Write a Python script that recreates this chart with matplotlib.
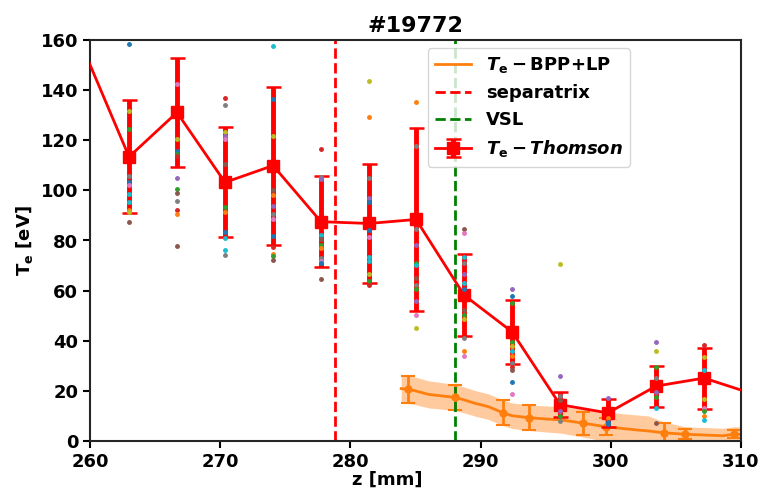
import numpy as np
import matplotlib
matplotlib.use("Agg")
import matplotlib.pyplot as plt

plt.rcParams['font.family'] = ['DejaVu Sans']
plt.rcParams['font.weight'] = 'bold'
plt.rcParams['axes.labelweight'] = 'bold'
plt.rcParams['axes.titleweight'] = 'bold'
plt.rcParams['mathtext.fontset'] = 'custom'
plt.rcParams['mathtext.rm'] = 'DejaVu Sans:bold'
plt.rcParams['mathtext.it'] = 'DejaVu Sans:bold:italic'
plt.rcParams['mathtext.bf'] = 'DejaVu Sans:bold'

# ---------------- data ----------------
title = "#19772"
separatrix_z = 278.8
vsl_z = 288.0

thomson_z = [259.31, 263.0, 266.68, 270.37, 274.06, 277.74, 281.43, 285.04,
             288.73, 292.41, 296.10, 299.78, 303.47, 307.16, 310.85]
thomson_te = [158.6, 113.4, 131.1, 103.2, 109.9, 87.5, 86.8, 88.4,
              58.2, 43.6, 14.5, 11.2, 21.9, 25.1, 18.9]
thomson_err = [22.0, 22.5, 21.6, 21.9, 31.5, 18.2, 23.7, 36.5,
               16.3, 12.8, 5.0, 5.5, 8.2, 12.2, 6.0]

# individual Thomson measurements (per z position, colours = time slices)
dots_te = [
    [158.4, 131.7, 124.3, 105.9, 103.5, 102.2, 98.7, 95.5, 92.3, 91.2, 87.4],
    [142.6, 120.5, 115.6, 114.6, 113.8, 104.8, 100.4, 99.0, 95.6, 92.2, 90.4, 77.8],
    [136.9, 134.0, 123.2, 121.6, 120.4, 110.5, 93.5, 91.5, 83.3, 80.9, 76.2, 74.2],
    [157.7, 136.3, 121.6, 100.2, 98.3, 93.8, 90.5, 88.7, 81.9, 77.3, 74.6, 74.0, 72.1],
    [116.6, 105.5, 104.4, 82.2, 80.6, 78.2, 76.9, 72.9, 71.9, 70.9, 64.7],
    [143.8, 129.3, 104.9, 97.0, 95.2, 84.1, 81.3, 73.5, 71.7, 66.6, 63.7, 62.1],
    [135.4, 117.8, 84.5, 78.1, 71.2, 70.2, 64.9, 62.3, 60.7, 55.7, 50.3, 45.1],
    [84.6, 82.9, 73.3, 70.9, 66.6, 62.9, 60.8, 52.3, 50.3, 48.6, 41.0, 36.0, 33.9],
    [60.8, 57.7, 54.9, 39.5, 38.0, 36.0, 33.9, 31.0, 29.7, 28.3, 23.7, 18.9],
    [70.6, 25.9, 18.0, 16.4, 12.1, 10.0, 7.8],
    [17.3, 9.0, 7.7, 6.9],
    [39.4, 35.9, 29.4, 25.3, 19.4, 17.4, 13.2, 7.2],
    [38.4, 33.4, 28.2, 16.9, 13.3, 11.8, 10.1, 8.4],
]
dots_c = [
    ['C0', 'C8', 'C2', 'C7', 'C0', 'C6', 'C9', 'C9', 'C1', 'C8', 'C5'],
    ['C6', 'C8', 'C0', 'C2', 'C3', 'C4', 'C2', 'C5', 'C7', 'C3', 'C1', 'C5'],
    ['C3', 'C7', 'C8', 'C4', 'C6', 'C5', 'C2', 'C1', 'C0', 'C9', 'C9', 'C7'],
    ['C9', 'C0', 'C8', 'C5', 'C1', 'C4', 'C7', 'C6', 'C0', 'C3', 'C1', 'C2', 'C5'],
    ['C3', 'C7', 'C4', 'C9', 'C5', 'C2', 'C1', 'C7', 'C6', 'C0', 'C5'],
    ['C8', 'C1', 'C7', 'C4', 'C0', 'C0', 'C6', 'C9', 'C9', 'C8', 'C2', 'C3'],
    ['C1', 'C7', 'C7', 'C4', 'C2', 'C9', 'C5', 'C7', 'C2', 'C4', 'C6', 'C8'],
    ['C5', 'C6', 'C9', 'C7', 'C4', 'C9', 'C0', 'C5', 'C2', 'C8', 'C7', 'C1', 'C6'],
    ['C4', 'C0', 'C2', 'C2', 'C8', 'C9', 'C1', 'C7', 'C3', 'C5', 'C0', 'C6'],
    ['C8', 'C4', 'C7', 'C5', 'C4', 'C2', 'C7'],
    ['C4', 'C1', 'C0', 'C0'],
    ['C4', 'C8', 'C2', 'C7', 'C4', 'C2', 'C9', 'C5'],
    ['C3', 'C8', 'C9', 'C8', 'C6', 'C2', 'C1', 'C9'],
]

# BPP+LP profile
bpp_z = [283.9, 284.4, 285.0, 286.0, 287.0, 288.0, 288.6, 289.6, 290.6, 291.7,
         292.4, 293.7, 295.0, 296.2, 297.9, 299.6, 300.7, 302.0, 302.9, 304.0,
         305.7, 307.1, 308.6, 309.5, 310.0]
bpp_te = [20.9, 20.6, 20.0, 18.6, 18.0, 17.4, 16.6, 15.0, 13.7, 11.3,
          10.1, 9.3, 8.8, 8.4, 7.1, 5.7, 5.1, 4.4, 4.0, 3.3,
          2.7, 2.4, 2.1, 2.7, 2.6]
bpp_band = [5.6, 5.6, 5.5, 5.4, 5.3, 5.2, 5.2, 5.1, 5.1, 5.1,
            5.1, 5.1, 5.2, 5.3, 5.6, 5.8, 5.9, 6.0, 6.0, 4.4,
            3.0, 3.0, 3.0, 3.0, 3.0]
bpp_eb_z = [284.4, 288.0, 291.7, 293.7, 297.9, 299.6, 304.1, 305.7, 309.5]
bpp_eb_te = [20.6, 17.4, 11.3, 9.3, 7.1, 5.7, 3.3, 2.7, 2.7]
bpp_eb_err = [5.5, 5.1, 5.1, 5.1, 4.6, 3.5, 4.0, 2.0, 1.7]

# ---------------- plot ----------------
fig = plt.figure(figsize=(7.62, 4.98), dpi=100)
ax = fig.add_axes([90/762, 1-441/498, 651/762, 401/498])

ax.fill_between(bpp_z, np.array(bpp_te) - np.array(bpp_band),
                np.array(bpp_te) + np.array(bpp_band),
                color='tab:orange', alpha=0.4, lw=0, zorder=1)
ax.plot(bpp_z, bpp_te, color='tab:orange', lw=2, zorder=2,
        label=r'$T_{\rm e}-$BPP+LP')
ax.errorbar(bpp_eb_z, bpp_eb_te, yerr=bpp_eb_err, fmt='o', ms=5,
            color='tab:orange', elinewidth=2, capsize=5.3, capthick=1.5, zorder=2)

ax.axvline(separatrix_z, color='red', ls='--', lw=2, label='separatrix', zorder=2)
ax.axvline(vsl_z, color='green', ls='--', lw=2, label='VSL', zorder=2)

ax.errorbar(thomson_z, thomson_te, yerr=thomson_err, fmt='s-', color='red',
            ms=8, lw=2, elinewidth=3.5, capsize=5.4, capthick=1.8, zorder=3,
            label=r'$T_{\rm e}-Thomson$')

for zz, vals, cols in zip(thomson_z[1:-1], dots_te, dots_c):
    for v, c in zip(vals, cols):
        ax.plot([zz], [v], '.', color=c, ms=5, zorder=4)

ax.set_xlim(260, 310)
ax.set_ylim(0, 160)
ax.set_xticks([260, 270, 280, 290, 300, 310])
ax.set_yticks([0, 20, 40, 60, 80, 100, 120, 140, 160])
ax.tick_params(labelsize=13, width=1.5, length=5)
for s in ax.spines.values():
    s.set_linewidth(1.5)
    s.set_color('#262626')
ax.set_xlabel('z [mm]', fontsize=13)
ax.xaxis.set_label_coords((387 - 90) / 651, -0.075)
ax.set_ylabel(r'$\mathrm{T_e}$ [eV]', fontsize=13)
ax.set_title(title, fontsize=16)

ax.legend(loc='upper left', bbox_to_anchor=(0.519, 0.98), borderaxespad=0,
          fontsize=13)

fig.savefig('out.png', dpi=100)
